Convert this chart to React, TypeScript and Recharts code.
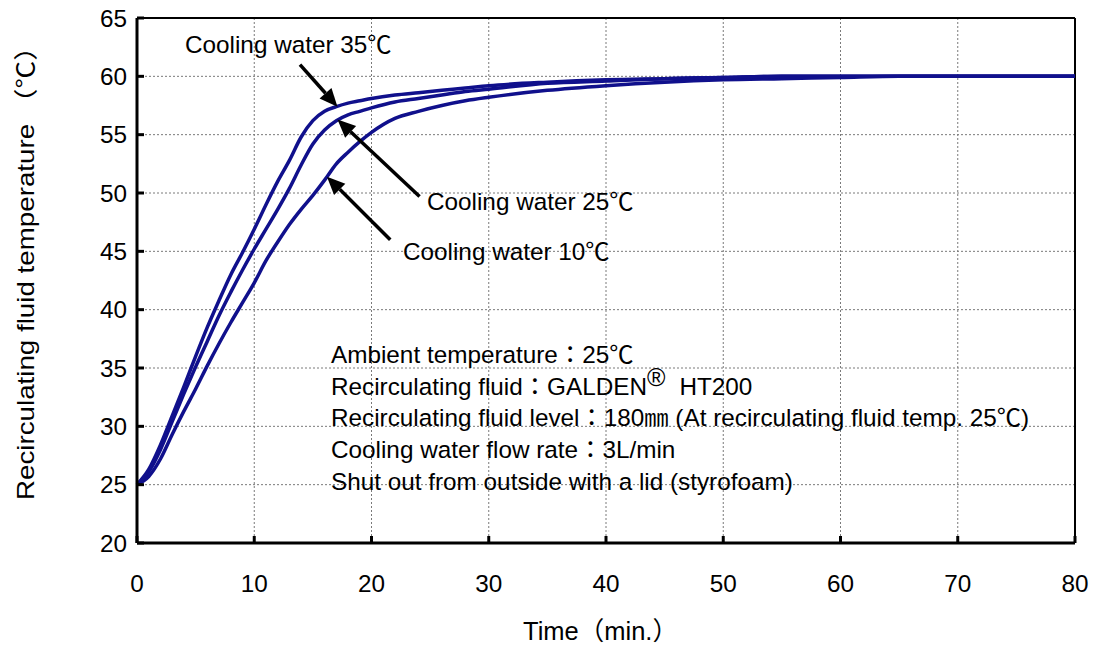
import { LineChart, Line, XAxis, YAxis, CartesianGrid, ReferenceLine, Customized } from "recharts";

const TIME = [0, 1, 2, 3, 4, 5, 6, 7, 8, 9, 10, 11, 12, 13, 14, 15, 16, 17, 18, 19, 20, 22, 24, 26, 28, 30, 35, 40, 45, 50, 55, 60, 65, 70, 75, 80];
const COOL_35 = [25.0, 26.3, 28.4, 30.9, 33.4, 36.0, 38.5, 40.8, 43.0, 44.9, 46.9, 49.0, 51.0, 52.8, 54.8, 56.2, 57.0, 57.4, 57.7, 57.9, 58.1, 58.4, 58.6, 58.8, 59.0, 59.2, 59.5, 59.7, 59.8, 59.9, 60.0, 60.0, 60.0, 60.0, 60.0, 60.0];
const COOL_25 = [25.0, 26.1, 28.0, 30.4, 32.8, 35.1, 37.3, 39.5, 41.5, 43.4, 45.2, 46.9, 48.6, 50.4, 52.4, 54.2, 55.4, 56.2, 56.7, 57.0, 57.3, 57.8, 58.1, 58.4, 58.7, 58.9, 59.4, 59.6, 59.8, 59.9, 60.0, 60.0, 60.0, 60.0, 60.0, 60.0];
const COOL_10 = [25.0, 25.7, 27.2, 29.3, 31.3, 33.2, 35.2, 37.1, 38.9, 40.6, 42.3, 44.2, 45.8, 47.3, 48.6, 49.8, 51.1, 52.5, 53.5, 54.4, 55.2, 56.4, 57.0, 57.5, 57.9, 58.2, 58.8, 59.2, 59.5, 59.7, 59.8, 59.9, 60.0, 60.0, 60.0, 60.0];

const X_TICKS = [0, 10, 20, 30, 40, 50, 60, 70, 80];
const Y_TICKS = [20, 25, 30, 35, 40, 45, 50, 55, 60, 65];

// arrows: [tailX, tailY, tipX, tipY] in data units
const ARROWS = [
  [13.9, 61.0, 17.1, 57.4],
  [24.1, 49.7, 17.1, 56.3],
  [21.6, 46.0, 16.2, 51.4],
];

const NOTES = [
  "Ambient temperature：25℃",
  "Recirculating fluid：GALDEN",
  "Recirculating fluid level：180㎜ (At recirculating fluid temp. 25℃)",
  "Cooling water flow rate：3L/min",
  "Shut out from outside with a lid (styrofoam)",
];

const FONT = "'Liberation Sans', Arial, 'Noto Sans CJK JP', sans-serif";
const NAVY = "#10108c";
const FS = 24.3;

const rows = TIME.map((t, i) => ({ t, c35: COOL_35[i], c25: COOL_25[i], c10: COOL_10[i] }));

const XTick = (p: any) => (
  <g>
    <line x1={p.x} x2={p.x} y1={543} y2={536} stroke="#000" strokeWidth={3} />
    <text x={p.x} y={592} textAnchor="middle" fontSize={FS} fontFamily={FONT} fill="#000">
      {p.payload.value}
    </text>
  </g>
);

const YTick = (p: any) => (
  <g>
    <line x1={137} x2={144} y1={p.y} y2={p.y} stroke="#000" strokeWidth={3} />
    <text x={127} y={p.y + 8.5} textAnchor="end" fontSize={FS} fontFamily={FONT} fill="#000">
      {p.payload.value}
    </text>
  </g>
);

const Arrow = (p: any) => {
  const { x1, y1, x2, y2 } = p;
  const ang = Math.atan2(y2 - y1, x2 - x1);
  const len = 18;
  const hw = 8;
  const bx = x2 - len * Math.cos(ang);
  const by = y2 - len * Math.sin(ang);
  const px = -Math.sin(ang) * hw;
  const py = Math.cos(ang) * hw;
  return (
    <g>
      <line x1={x1} y1={y1} x2={bx} y2={by} stroke="#000" strokeWidth={3.5} />
      <polygon points={`${x2},${y2} ${bx + px},${by + py} ${bx - px},${by - py}`} fill="#000" />
    </g>
  );
};

const Texts = () => (
  <g fontFamily={FONT} fontSize={FS} fill="#000">
    <text x={185} y={53}>Cooling water 35℃</text>
    <text x={427} y={210}>Cooling water 25℃</text>
    <text x={403} y={260}>Cooling water 10℃</text>
    {NOTES.map((n, i) => (
      <text key={i} x={331} y={363 + i * 31.7}>
        {n}
        {i === 1 ? (
          <>
            <tspan dy={-9} fontSize={25}>®</tspan>
            <tspan dy={9} dx={14}>HT200</tspan>
          </>
        ) : null}
      </text>
    ))}
    <text x={523} y={640} fontSize={25.5}>Time（min.）</text>
    <text
      transform="translate(34,500) rotate(-90)"
      x={0}
      y={0}
      fontSize={24}
      textLength={467}
      lengthAdjust="spacingAndGlyphs"
    >
      Recirculating fluid temperature （℃）
    </text>
  </g>
);

export default function App() {
  return (
    <div style={{ position: "absolute", left: 0, top: 0, background: "#fff" }}>
      <LineChart width={1094} height={648} data={rows} margin={{ top: 18, right: 19, bottom: 0, left: 0 }}>
        <CartesianGrid stroke="#7a7a7a" strokeDasharray="2 2" strokeWidth={1} />
        <XAxis
          dataKey="t"
          type="number"
          domain={[0, 80]}
          ticks={X_TICKS}
          height={105}
          tickLine={false}
          axisLine={{ stroke: "#000", strokeWidth: 3 }}
          tick={<XTick />}
          interval={0}
        />
        <YAxis
          type="number"
          domain={[20, 65]}
          ticks={Y_TICKS}
          width={137}
          tickLine={false}
          axisLine={{ stroke: "#000", strokeWidth: 3 }}
          tick={<YTick />}
          interval={0}
        />
        <ReferenceLine y={65} stroke="#000" strokeWidth={2} />
        <ReferenceLine x={80} stroke="#000" strokeWidth={2} />
        <Line dataKey="c10" type="monotone" stroke={NAVY} strokeWidth={3.5} dot={false} isAnimationActive={false} />
        <Line dataKey="c25" type="monotone" stroke={NAVY} strokeWidth={3.5} dot={false} isAnimationActive={false} />
        <Line dataKey="c35" type="monotone" stroke={NAVY} strokeWidth={3.5} dot={false} isAnimationActive={false} />
        {ARROWS.map((a, i) => (
          <ReferenceLine
            key={i}
            segment={[{ x: a[0], y: a[1] }, { x: a[2], y: a[3] }]}
            ifOverflow="visible"
            shape={(p: any) => <Arrow {...p} />}
          />
        ))}
        <Customized component={Texts} />
      </LineChart>
    </div>
  );
}
